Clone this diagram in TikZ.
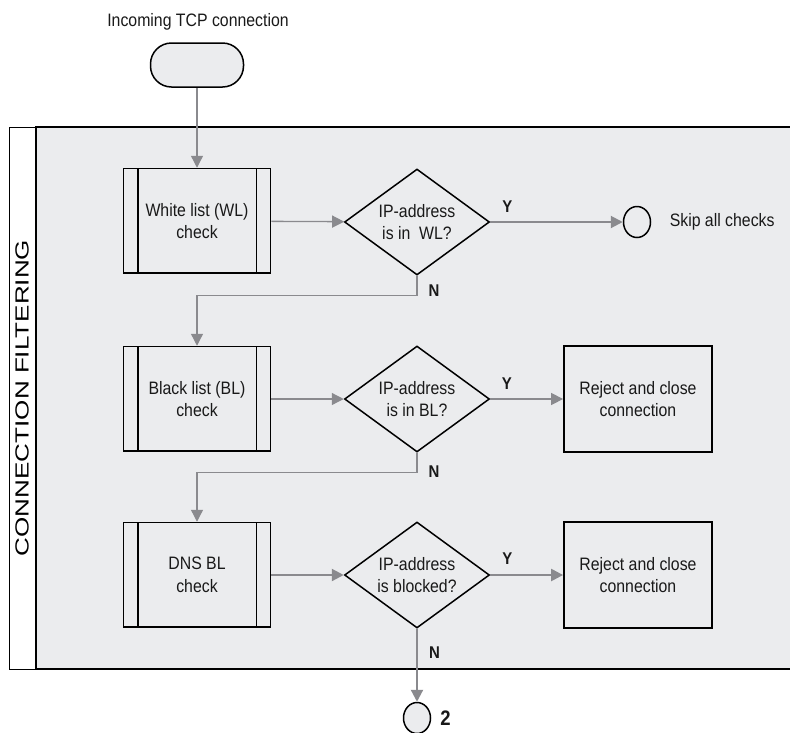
\documentclass[tikz,border=0pt]{standalone}
\usepackage{fontspec}
\setmainfont{Liberation Sans}[FakeStretch=0.88]
\newfontfamily\bandfont{Liberation Sans}
\usetikzlibrary{shapes.geometric,arrows.meta,positioning}
\definecolor{poolgray}{RGB}{235,236,238}
\definecolor{flowgray}{RGB}{138,138,142}
\tikzset{
  txt/.style={font=\fontsize{18}{22.5}\selectfont, align=center, text=black!90},
  yn/.style={font=\fontsize{17}{17}\selectfont\bfseries, inner sep=3pt, text=black!90},
  startbox/.style={draw, line width=1.5pt, fill=poolgray, rounded corners=21pt,
    minimum width=93pt, minimum height=44pt},
  procbox/.style={txt, draw, line width=1.5pt, fill=poolgray,
    minimum width=147pt, minimum height=105pt,
    path picture={
      \draw[line width=2pt] ([xshift=14pt]path picture bounding box.north west)
        -- ([xshift=14pt]path picture bounding box.south west);
      \draw[line width=1.5pt] ([xshift=-14pt]path picture bounding box.north east)
        -- ([xshift=-14pt]path picture bounding box.south east);
      \draw[line width=2.5pt] (path picture bounding box.south west)
        -- (path picture bounding box.south east);}},
  decision/.style={txt, diamond, draw, line width=1.5pt, fill=poolgray, inner sep=0pt,
    aspect=1.37, minimum width=145pt, minimum height=106pt},
  actbox/.style={txt, draw, line width=1.8pt, fill=poolgray,
    minimum width=148pt, minimum height=106pt},
  endpt/.style={ellipse, draw, line width=1.5pt, fill=poolgray, inner sep=0pt,
    minimum width=27pt, minimum height=31pt},
  flow/.style={draw=flowgray, line width=1.3pt, -{Triangle[length=12pt,width=12pt]}}
}
\begin{document}
\begin{tikzpicture}[x=1pt,y=-1pt]
  \useasboundingbox (0,0) rectangle (790,732);
  % lane
  \fill[poolgray] (36,127) rectangle (795,669);
  \draw[line width=1pt] (9,127) rectangle (36,669);
  \draw[line width=2.5pt] (795,127) -- (36,127) -- (36,669) -- (795,669);
  \node[rotate=90, font=\bandfont\fontsize{19}{19}\selectfont] (lane) at (22,398)
    {\scalebox{1.37}[1]{CONNECTION FILTERING}};

  \node[txt] (title) at (198,22) {Incoming TCP connection};
  \node[startbox] (start) at (197,65) {};

  % white list
  \node[procbox] (wl) at (197,221) {White list (WL)\\check};
  \node[decision] (wlq) at (417,222) {IP-address\\is in~ WL?};
  \node[endpt] (skip) at (637,222) {};
  \node[txt, right=15pt of skip] (skiptxt) {Skip all checks};

  % black list
  \node[procbox] (bl) at (197,399) {Black list (BL)\\check};
  \node[decision] (blq) at (417,399) {IP-address\\is in BL?};
  \node[actbox] (blrej) at (638,399) {Reject and close\\connection};

  % dns bl
  \node[procbox] (dns) at (197,575) {DNS BL\\check};
  \node[decision] (dnsq) at (417,575) {IP-address\\is blocked?};
  \node[actbox] (dnsrej) at (638,575) {Reject and close\\connection};

  \node[endpt] (next) at (417,718) {};
  \node[yn, font=\fontsize{21}{21}\selectfont\bfseries, right=6pt of next] (nextnum) {2};

  \draw[flow] (start) -- (wl);
  \draw[flow] (wl) -- (wlq);
  \draw[flow, line width=2pt] (wlq.east) -- node[yn, at start, anchor=south west, xshift=8pt, yshift=6pt] {Y} (skip);
  \draw[flow] (wlq.south) -- node[yn, pos=0.75, right, xshift=8pt] {N} ++(0,20) -| (bl.north);

  \draw[flow] (bl) -- (blq);
  \draw[flow] (blq.east) -- node[yn, at start, anchor=south west, xshift=8pt, yshift=6pt] {Y} (blrej);
  \draw[flow] (blq.south) -- node[yn, pos=0.95, right, xshift=8pt] {N} ++(0,20) -| (dns.north);

  \draw[flow, line width=2.2pt] (dns) -- (dnsq);
  \draw[flow, line width=2.2pt] (dnsq.east) -- node[yn, at start, anchor=south west, xshift=8pt, yshift=6pt] {Y} (dnsrej);
  \draw[flow, line width=2.2pt] (dnsq.south) -- node[yn, pos=0.33, right, xshift=8pt] {N} (next);
\end{tikzpicture}
\end{document}
